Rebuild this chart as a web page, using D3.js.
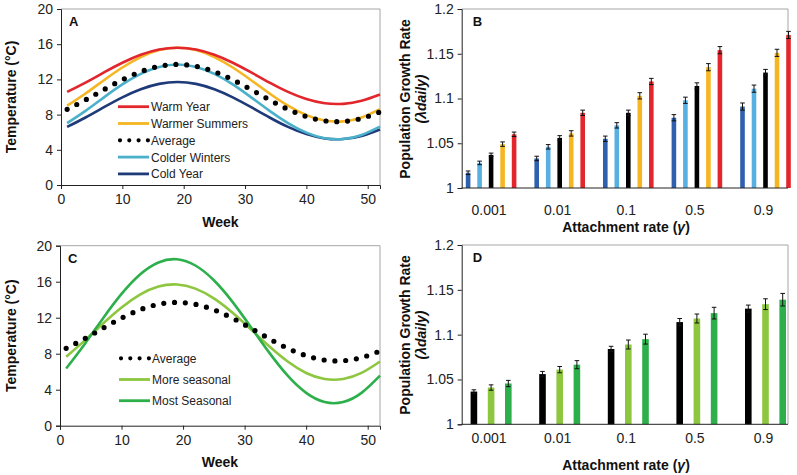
<!DOCTYPE html>
<html>
<head>
<meta charset="utf-8">
<script src="https://cdn.jsdelivr.net/npm/d3@7"></script>
<style>
  html, body { margin: 0; padding: 0; background: #fff; }
  svg { display: block; font-family: "Liberation Sans", Arial, sans-serif; }
</style>
</head>
<body>
<svg id="chart" width="797" height="475"></svg>
<script>
// ---------- DATA ----------
const weeks = [1, 4, 7, 10, 13, 16, 19, 22, 25, 28, 31, 34, 37, 40, 43, 46, 49, 52];
const tempWarmYear      = [10.58, 11.63, 12.79, 13.89, 14.80, 15.39, 15.60, 15.39, 14.80, 13.89, 12.79, 11.63, 10.58, 9.77, 9.29, 9.22, 9.57, 10.28];
const tempWarmerSummers = [9.01, 10.40, 11.91, 13.35, 14.54, 15.33, 15.60, 15.33, 14.54, 13.35, 11.91, 10.40, 9.01, 7.94, 7.32, 7.23, 7.68, 8.62];
const tempAverage       = [8.60, 9.67, 10.84, 11.96, 12.88, 13.49, 13.70, 13.49, 12.88, 11.96, 10.84, 9.67, 8.60, 7.78, 7.29, 7.22, 7.57, 8.30];
const tempColderWinters = [7.04, 8.43, 9.96, 11.43, 12.63, 13.42, 13.70, 13.42, 12.63, 11.43, 9.96, 8.43, 7.04, 5.95, 5.32, 5.23, 5.69, 6.63];
const tempColdYear      = [6.60, 7.67, 8.84, 9.96, 10.88, 11.49, 11.70, 11.49, 10.88, 9.96, 8.84, 7.67, 6.60, 5.78, 5.29, 5.22, 5.57, 6.30];
const tempMoreSeasonal  = [7.66, 9.45, 11.36, 13.14, 14.57, 15.46, 15.69, 15.23, 14.15, 12.58, 10.72, 8.82, 7.13, 5.86, 5.19, 5.19, 5.86, 7.13];
const tempMostSeasonal  = [6.36, 9.06, 11.94, 14.64, 16.80, 18.14, 18.49, 17.80, 16.16, 13.79, 10.98, 8.12, 5.56, 3.65, 2.63, 2.63, 3.65, 5.56];

const weekTicks = [0, 10, 20, 30, 40, 50];
const tempTicks = [0, 4, 8, 12, 16, 20];

const categories = ["0.001", "0.01", "0.1", "0.5", "0.9"];
const rateTicks = [1, 1.05, 1.1, 1.15, 1.2];
const rateTickLabels = ["1", "1.05", "1.1", "1.15", "1.2"];

// Panel B
const bColdYear       = [1.017, 1.033, 1.055, 1.0785, 1.091];
const bColderWinters  = [1.028, 1.046, 1.070, 1.098, 1.111];
const bAverage        = [1.037, 1.056, 1.084, 1.114, 1.129];
const bWarmerSummers  = [1.049, 1.061, 1.103, 1.135, 1.151];
const bWarmYear       = [1.060, 1.084, 1.119, 1.154, 1.171];
const bErrColdYear      = [0.002, 0.0025, 0.003, 0.0035, 0.004];
const bErrColderWinters = [0.002, 0.0025, 0.003, 0.0035, 0.004];
const bErrAverage       = [0.002, 0.0025, 0.003, 0.0035, 0.0035];
const bErrWarmerSummers = [0.0025, 0.003, 0.0035, 0.004, 0.004];
const bErrWarmYear      = [0.0025, 0.003, 0.0035, 0.004, 0.004];

// Panel D
const dAverage        = [1.0365, 1.056, 1.084, 1.114, 1.129];
const dMoreSeasonal   = [1.041, 1.061, 1.089, 1.118, 1.134];
const dMostSeasonal   = [1.0455, 1.0665, 1.095, 1.124, 1.139];
const dErrAverage      = [0.002, 0.003, 0.003, 0.004, 0.004];
const dErrMoreSeasonal = [0.003, 0.0035, 0.005, 0.005, 0.006];
const dErrMostSeasonal = [0.0035, 0.0045, 0.0055, 0.0065, 0.007];

// ---------- STYLE ----------
const FONT = '"Liberation Sans", Arial, sans-serif';
const C = {
  red: "#e2262c", gold: "#f5b622", lblue: "#4bb1ca", navy: "#1f3a78",
  barNavy: "#2f60ae", barLblue: "#58afe2",
  lgreen: "#8dc63f", green: "#2db04b", black: "#000"
};

const svg = d3.select("#chart");
svg.append("rect").attr("width", 797).attr("height", 475).attr("fill", "#fff");

function frame(g, L, R, T, B) {
  g.append("path")
    .attr("d", `M${L},${T}H${R}V${B}`)
    .attr("fill", "none").attr("stroke", "#a6a6a6").attr("stroke-width", 1);
}

function yAxis(g, y, L, ticks, labels) {
  const ax = d3.axisLeft(y).tickValues(ticks).tickSize(4).tickPadding(4);
  if (labels) ax.tickFormat((d, i) => labels[i]);
  const a = g.append("g").attr("transform", `translate(${L},0)`).call(ax);
  a.select(".domain").attr("stroke", "#222");
  a.selectAll(".tick line").attr("stroke", "#222");
  a.selectAll("text").attr("font-size", 14).attr("font-family", FONT).attr("fill", "#222");
}

function xAxisLinear(g, x, B, ticks) {
  const ax = d3.axisBottom(x).tickValues(ticks).tickSize(4).tickPadding(5).tickFormat(d3.format("d"));
  const a = g.append("g").attr("transform", `translate(0,${B})`).call(ax);
  a.select(".domain").attr("stroke", "#222");
  a.selectAll(".tick line").attr("stroke", "#222");
  a.selectAll("text").attr("font-size", 14).attr("font-family", FONT).attr("fill", "#222");
}

function panelLabel(g, txt, x, y) {
  g.append("text").attr("x", x).attr("y", y).text(txt)
    .attr("font-size", 13).attr("font-weight", "bold").attr("font-family", FONT).attr("fill", "#111");
}

function axisTitleX(g, txt, x, y, italicTail) {
  const t = g.append("text").attr("x", x).attr("y", y).attr("text-anchor", "middle")
    .attr("font-size", 14).attr("font-weight", "bold").attr("font-family", FONT).attr("fill", "#111");
  t.append("tspan").text(txt);
  if (italicTail) {
    t.append("tspan").text("γ").attr("font-style", "italic");
    t.append("tspan").text(")");
  }
}

function tempYTitle(g, cy) {
  g.append("text").attr("transform", `translate(16,${cy}) rotate(-90)`).attr("text-anchor", "middle")
    .attr("font-size", 14).attr("font-weight", "bold").attr("font-family", FONT).attr("fill", "#111")
    .text("Temperature (°C)");
}

function rateYTitle(g, cy) {
  g.append("text").attr("transform", `translate(410,${cy}) rotate(-90)`).attr("text-anchor", "middle")
    .attr("font-size", 14).attr("font-weight", "bold").attr("font-family", FONT).attr("fill", "#111")
    .text("Population Growth Rate");
  g.append("text").attr("transform", `translate(426,${cy}) rotate(-90)`).attr("text-anchor", "middle")
    .attr("font-size", 14).attr("font-weight", "bold").attr("font-style", "italic").attr("font-family", FONT).attr("fill", "#111")
    .text("(λdaily)");
}

// ---------- LINE PANELS ----------
function linePanel(cfg) {
  const { L, R, T, B, series, legend, label, legendX, legendY, legendStep } = cfg;
  const g = svg.append("g");
  const x = d3.scaleLinear().domain([0, 52]).range([L, R]);
  const y = d3.scaleLinear().domain([0, 20]).range([B, T]);
  frame(g, L, R, T, B);
  const line = d3.line().x((d, i) => x(weeks[i])).y(d => y(d)).curve(d3.curveNatural);
  series.forEach(s => {
    const p = g.append("path").attr("d", line(s.values)).attr("fill", "none").attr("stroke", s.color);
    if (s.dotted) {
      p.attr("stroke-width", 5.2).attr("stroke-linecap", "round").attr("stroke-dasharray", "0 10.8");
    } else {
      p.attr("stroke-width", 2.6);
    }
  });
  yAxis(g, y, L, tempTicks);
  xAxisLinear(g, x, B, weekTicks);
  panelLabel(g, label, L + 8, T + 17);
  // legend
  legend.forEach((s, i) => {
    const cy = legendY + i * legendStep;
    if (s.dotted) {
      g.append("line").attr("x1", legendX + 2).attr("x2", legendX + 30).attr("y1", cy).attr("y2", cy)
        .attr("stroke", s.color).attr("stroke-width", 4.2).attr("stroke-linecap", "round").attr("stroke-dasharray", "0 9.3");
    } else {
      g.append("line").attr("x1", legendX).attr("x2", legendX + 31).attr("y1", cy).attr("y2", cy)
        .attr("stroke", s.color).attr("stroke-width", 2.8);
    }
    g.append("text").attr("x", legendX + 33).attr("y", cy + 4.5).text(s.name)
      .attr("font-size", 12).attr("font-family", FONT).attr("fill", "#222");
  });
  return { g, x, y };
}

const A = linePanel({
  L: 61, R: 380, T: 9, B: 185, label: "A",
  series: [
    { name: "Cold Year", values: tempColdYear, color: C.navy },
    { name: "Colder Winters", values: tempColderWinters, color: C.lblue },
    { name: "Warmer Summers", values: tempWarmerSummers, color: C.gold },
    { name: "Warm Year", values: tempWarmYear, color: C.red },
    { name: "Average", values: tempAverage, color: C.black, dotted: true }
  ],
  legend: [
    { name: "Warm Year", color: C.red },
    { name: "Warmer Summers", color: C.gold },
    { name: "Average", color: C.black, dotted: true },
    { name: "Colder Winters", color: C.lblue },
    { name: "Cold Year", color: C.navy }
  ],
  legendX: 118, legendY: 106.7, legendStep: 16.8
});
tempYTitle(A.g, 97);
axisTitleX(A.g, "Week", 220.5, 227);

const Cp = linePanel({
  L: 60, R: 380, T: 245.7, B: 425.7, label: "C",
  series: [
    { name: "More seasonal", values: tempMoreSeasonal, color: C.lgreen },
    { name: "Most Seasonal", values: tempMostSeasonal, color: C.green },
    { name: "Average", values: tempAverage, color: C.black, dotted: true }
  ],
  legend: [
    { name: "Average", color: C.black, dotted: true },
    { name: "More seasonal", color: C.lgreen },
    { name: "Most Seasonal", color: C.green }
  ],
  legendX: 119, legendY: 358.3, legendStep: 21.2
});
tempYTitle(Cp.g, 335.7);
axisTitleX(Cp.g, "Week", 220, 467);

// ---------- BAR PANELS ----------
function barPanel(cfg) {
  const { L, R, T, B, series, label, spread, barW } = cfg;
  const g = svg.append("g");
  const x = d3.scaleBand().domain(categories).range([456.8, 799.8]);
  const inner = d3.scalePoint().domain(series.map(s => s.name)).range([-spread, spread]);
  const y = d3.scaleLinear().domain([1, 1.2]).range([B, T]);
  frame(g, L, R, T, B);
  series.forEach(s => {
    const gs = g.append("g");
    categories.forEach((c, i) => {
      const cx = x(c) + x.bandwidth() / 2 + inner(s.name);
      const v = s.values[i], e = s.err[i];
      gs.append("rect").attr("x", cx - barW / 2).attr("width", barW)
        .attr("y", y(v)).attr("height", y(1) - y(v)).attr("fill", s.color);
      gs.append("path")
        .attr("d", `M${cx},${y(v - e)}V${y(v + e)}M${cx - 2.3},${y(v + e)}H${cx + 2.3}M${cx - 2.3},${y(v - e)}H${cx + 2.3}`)
        .attr("stroke", "#111").attr("stroke-width", 1).attr("fill", "none");
    });
  });
  yAxis(g, y, L, rateTicks, rateTickLabels);
  // x axis baseline + category labels (no ticks)
  g.append("line").attr("x1", L).attr("x2", R).attr("y1", B).attr("y2", B).attr("stroke", "#222");
  categories.forEach(c => {
    g.append("text").attr("x", x(c) + x.bandwidth() / 2 - 2).attr("y", B + 27 - (cfg.labelUp || 0))
      .attr("text-anchor", "middle").attr("font-size", 14).attr("font-family", FONT).attr("fill", "#222").text(c);
  });
  panelLabel(g, label, L + 11, T + 17);
  return { g, x, y };
}

const Bp = barPanel({
  L: 461.7, R: 788, T: 9, B: 188, label: "B", spread: 23, barW: 4.6, labelUp: 0,
  series: [
    { name: "Cold Year", values: bColdYear, err: bErrColdYear, color: C.barNavy },
    { name: "Colder Winters", values: bColderWinters, err: bErrColderWinters, color: C.barLblue },
    { name: "Average", values: bAverage, err: bErrAverage, color: C.black },
    { name: "Warmer Summers", values: bWarmerSummers, err: bErrWarmerSummers, color: C.gold },
    { name: "Warm Year", values: bWarmYear, err: bErrWarmYear, color: C.red }
  ]
});
rateYTitle(Bp.g, 99);
axisTitleX(Bp.g, "Attachment rate (", 626, 232, true);

const Dp = barPanel({
  L: 461.7, R: 788, T: 245, B: 424.3, label: "D", spread: 17.2, barW: 6.6, labelUp: 8,
  series: [
    { name: "Average", values: dAverage, err: dErrAverage, color: C.black },
    { name: "More seasonal", values: dMoreSeasonal, err: dErrMoreSeasonal, color: C.lgreen },
    { name: "Most Seasonal", values: dMostSeasonal, err: dErrMostSeasonal, color: C.green }
  ]
});
rateYTitle(Dp.g, 335);
axisTitleX(Dp.g, "Attachment rate (", 626, 470, true);
</script>
</body>
</html>
